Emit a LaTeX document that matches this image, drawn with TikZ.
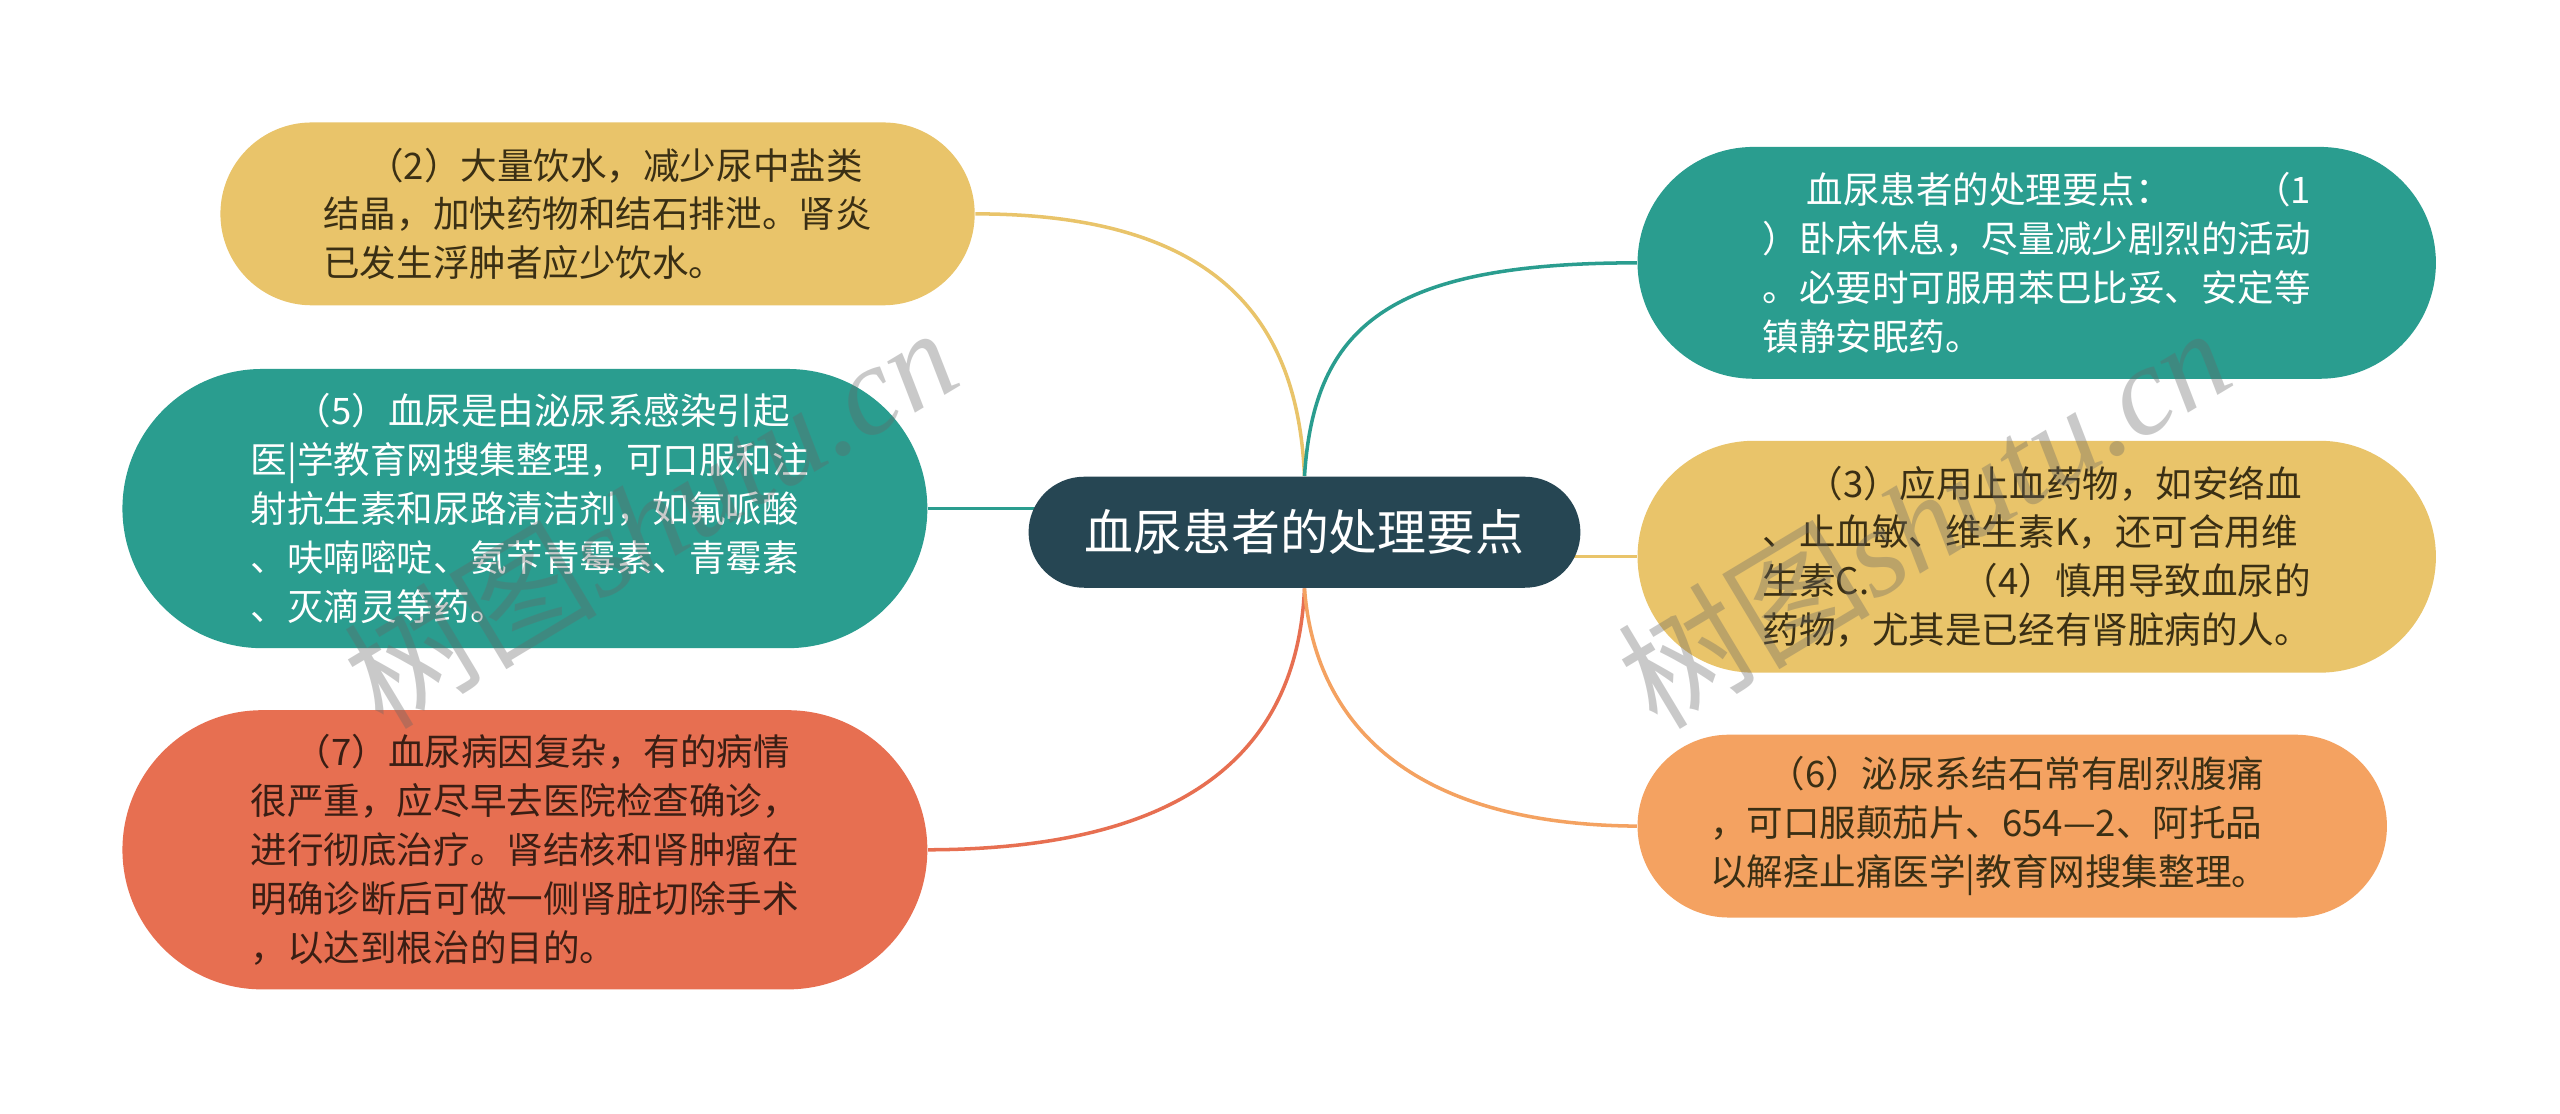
\documentclass[tikz,border=0pt]{standalone}
\usepackage{fontspec}
\setmainfont{Noto Sans CJK SC}
\newfontfamily\wmlatin{Liberation Serif}
\usetikzlibrary{backgrounds}

\definecolor{hubblue}{HTML}{264653}
\definecolor{teal}{HTML}{2A9D8F}
\definecolor{sandy}{HTML}{E9C46A}
\definecolor{peach}{HTML}{F4A261}
\definecolor{coral}{HTML}{E76F51}
\definecolor{darkink}{HTML}{3A2F14}
\definecolor{redink}{HTML}{3A1E14}

\newlength\pxu
\setlength\pxu{0.01633cm}

\tikzset{
	leaf/.style n args={4}{fill=#1, text=#2, minimum width=#3\pxu, minimum height=#4\pxu,
		rounded corners=#4*0.5\pxu, text width=156pt, align=left, inner sep=0pt,
		font=\fontsize{10.4pt}{13.9pt}\selectfont},
	link/.style={line width=1pt},
	wmark/.style={rotate=31, text=black!60, opacity=0.35, font=\fontsize{36pt}{36pt}\selectfont}
}

\begin{document}
\begin{tikzpicture}[x=\pxu, y=-\pxu]
			\useasboundingbox (0,0) rectangle (1568,682);
			
			\node [fill=hubblue, text=white, minimum width=338\pxu, minimum height=68\pxu, rounded corners=34\pxu,
				font=\fontsize{13.9pt}{16pt}\selectfont] (hub) at (799,326) {血尿患者的处理要点};
			
			% left side
			\node [leaf={sandy}{darkink}{462}{112}] (drink) at (366,131)
				{\hspace*{1.2em}（2）大量饮水，减少尿中盐类\\结晶，加快药物和结石排泄。肾炎\\已发生浮肿者应少饮水。};
			\node [leaf={teal}{white}{493}{171}] (infect) at (321.5,311.5)
				{\hspace*{1.2em}（5）血尿是由泌尿系感染引起\\医|学教育网搜集整理，可口服和注\\射抗生素和尿路清洁剂，如氟哌酸\\、呋喃嘧啶、氨苄青霉素、青霉素\\、灭滴灵等药。};
			\node [leaf={coral}{redink}{493}{171}] (surgery) at (321.5,520.5)
				{\hspace*{1.2em}（7）血尿病因复杂，有的病情\\很严重，应尽早去医院检查确诊，\\进行彻底治疗。肾结核和肾肿瘤在\\明确诊断后可做一侧肾脏切除手术\\，以达到根治的目的。};
			
			% right side
			\node [leaf={teal}{white}{489}{142}] (rest) at (1247.5,161)
				{\hspace*{1.2em}血尿患者的处理要点：\hfill（1\\）卧床休息，尽量减少剧烈的活动\\。必要时可服用苯巴比妥、安定等\\镇静安眠药。};
			\node [leaf={sandy}{darkink}{489}{142}] (stopblood) at (1247.5,341)
				{\hspace*{1.2em}（3）应用止血药物，如安络血\\、止血敏、维生素K，还可合用维\\生素C.\hfill（4）慎用导致血尿的\\药物，尤其是已经有肾脏病的人。};
			\node [leaf={peach}{darkink}{459}{112}, text width=172pt] (stone) at (1232.5,506)
				{\hspace*{1.6em}（6）泌尿系结石常有剧烈腹痛\\\mbox{，可口服颠茄片、654—2、阿托品}\\以解痉止痛医学|教育网搜集整理。};
			
			\begin{scope}[on background layer]
				\fill [white] (0,0) rectangle (1568,682);
				\draw [link, sandy] (hub.north) .. controls (795,200) and (750,131) .. (drink.east);
				\draw [link, teal] (hub.north) .. controls (805,200) and (850,161) .. (rest.west);
				\draw [link, teal] (infect.east) -- (hub.center |- infect.east);
				\draw [link, sandy] (hub.center |- stopblood.west) -- (stopblood.west);
				\draw [link, coral] (hub.south) .. controls (795,450) and (740,520) .. (surgery.east);
				\draw [link, peach] (hub.south) .. controls (805,440) and (860,505) .. (stone.west);
			\end{scope}
			
			% watermarks
			\node [wmark] (wmleft) at (398,316) {树图{\wmlatin\itshape shutu.cn}};
			\node [wmark] (wmright) at (1178,316) {树图{\wmlatin\itshape shutu.cn}};
\end{tikzpicture}
\end{document}
